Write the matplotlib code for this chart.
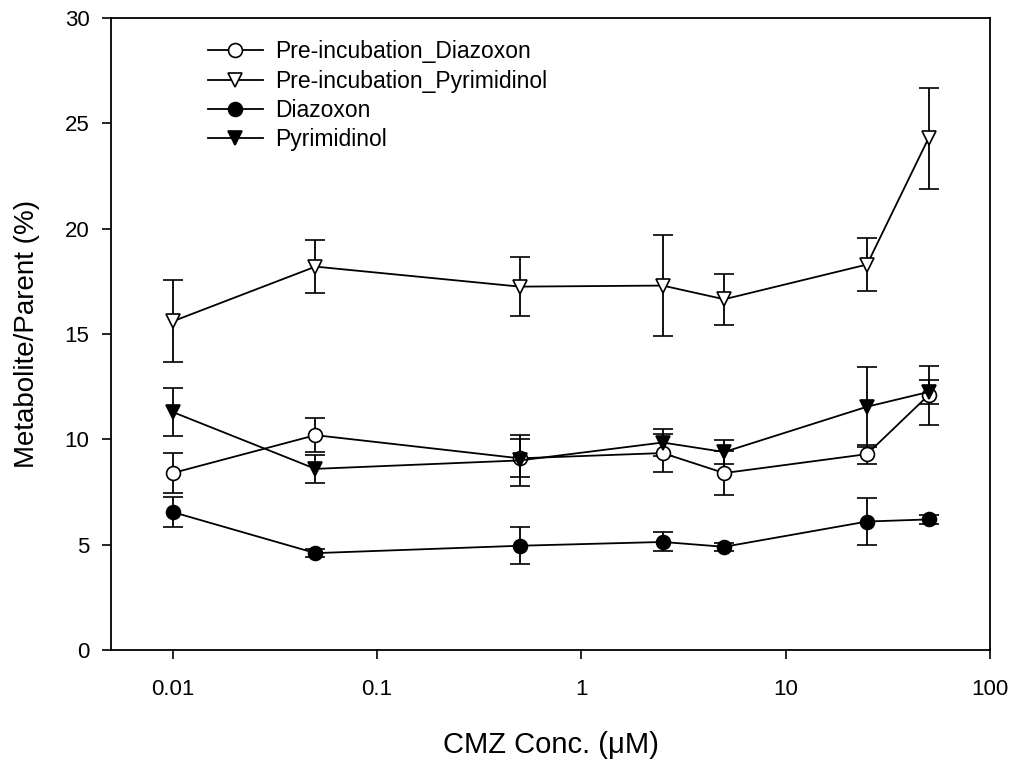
import numpy as np
import matplotlib
matplotlib.use('Agg')
import matplotlib.pyplot as plt
from matplotlib.lines import Line2D

plt.rcParams['font.family'] = ['Liberation Sans', 'DejaVu Sans']

conc = [0.01, 0.05, 0.5, 2.5, 5, 25, 50]

pre_diazoxon = [8.4, 10.2, 9.1, 9.35, 8.4, 9.3, 12.1]
pre_diazoxon_err = [0.95, 0.8, 0.9, 0.9, 1.05, 0.45, 1.4]

pre_pyrimidinol = [15.6, 18.2, 17.25, 17.3, 16.65, 18.3, 24.3]
pre_pyrimidinol_err = [1.95, 1.25, 1.4, 2.4, 1.2, 1.25, 2.4]

diazoxon = [6.55, 4.6, 4.95, 5.13, 4.9, 6.1, 6.2]
diazoxon_err = [0.73, 0.2, 0.88, 0.45, 0.2, 1.13, 0.2]

pyrimidinol = [11.3, 8.6, 9.0, 9.85, 9.4, 11.55, 12.25]
pyrimidinol_err = [1.12, 0.65, 1.2, 0.65, 0.55, 1.9, 0.55]

series = [
    ('Pre-incubation_Diazoxon', pre_diazoxon, pre_diazoxon_err, 'o', 'white'),
    ('Pre-incubation_Pyrimidinol', pre_pyrimidinol, pre_pyrimidinol_err, 'v', 'white'),
    ('Diazoxon', diazoxon, diazoxon_err, 'o', 'black'),
    ('Pyrimidinol', pyrimidinol, pyrimidinol_err, 'v', 'black'),
]

fig = plt.figure(figsize=(10.16, 7.67), dpi=100)
ax = fig.add_axes([0.1093, 0.1525, 0.8652, 0.824])

handles = []
for name, vals, errs, mk, fill in series:
    ax.errorbar(conc, vals, yerr=errs, fmt='-' + mk, color='black', lw=1.3,
                elinewidth=1.3, capsize=7, capthick=1.3, markersize=10,
                markeredgewidth=1.2, markeredgecolor='black', mfc=fill)
    handles.append(Line2D([], [], color='black', lw=1.3, marker=mk, markersize=10,
                          markeredgewidth=1.2, markeredgecolor='black', mfc=fill,
                          label=name))

ax.set_xscale('log')
ax.set_xlim(0.005, 100)
ax.set_ylim(0, 30)
ax.set_xticks([0.01, 0.1, 1, 10, 100])
ax.set_xticklabels(['0.01', '0.1', '1', '10', '100'])
ax.xaxis.set_minor_locator(matplotlib.ticker.NullLocator())
ax.set_yticks([0, 5, 10, 15, 20, 25, 30])

ax.tick_params(axis='both', direction='out', length=6.5, width=1.2, labelsize=16)
ax.tick_params(axis='x', pad=14)
ax.tick_params(axis='y', pad=9)
for s in ax.spines.values():
    s.set_linewidth(1.3)

ax.set_xlabel('CMZ Conc. (\u03bcM)', fontsize=21, labelpad=23)
ax.set_ylabel('Metabolite/Parent (%)', fontsize=20, labelpad=18)

ax.legend(handles=handles, loc='upper left', bbox_to_anchor=(0.092, 0.99), frameon=False,
          fontsize=16.5, handlelength=2.4, handletextpad=0.55, labelspacing=0.27,
          borderaxespad=0.3)

fig.savefig('out.png', dpi=100)
